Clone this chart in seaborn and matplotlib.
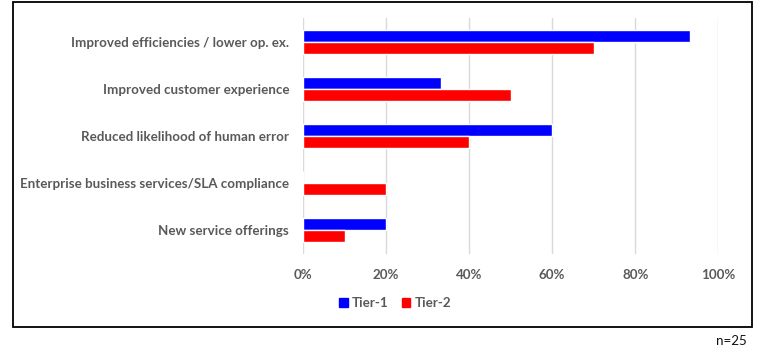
import matplotlib
matplotlib.use("Agg")
import matplotlib.pyplot as plt
import matplotlib.patches as mpatches
import matplotlib.ticker as mticker
import seaborn as sns
import pandas as pd

categories = [
    "Improved efficiencies / lower op. ex.",
    "Improved customer experience",
    "Reduced likelihood of human error",
    "Enterprise business services/SLA compliance",
    "New service offerings",
]
tier1 = [93.3, 33.3, 60.0, 0.0, 20.0]
tier2 = [70.0, 50.0, 40.0, 20.0, 10.0]
series = ["Tier-1", "Tier-2"]
colors = ["#0000ff", "#ff0000"]

df = pd.DataFrame({
    "category": categories * 2,
    "value": tier1 + tier2,
    "tier": [series[0]] * len(categories) + [series[1]] * len(categories),
})

sns.set_style("white")
plt.rcParams["font.family"] = ["Lato", "DejaVu Sans"]

fig = plt.figure(figsize=(7.62, 3.5), dpi=100)
ax = fig.add_axes([303 / 762, 1 - 253.5 / 350, (718.3 - 303) / 762, (253.5 - 18) / 350])

sns.barplot(data=df, y="category", x="value", hue="tier", order=categories,
            hue_order=series, palette=colors, orient="h", width=0.51, gap=0,
            saturation=1, legend=False, ax=ax)

ax.set_xlim(0, 100)
ax.set_xticks([0, 20, 40, 60, 80, 100])
ax.xaxis.set_major_formatter(mticker.FuncFormatter(lambda v, p: f"{v:.0f}%"))
ax.grid(axis="x", color="#d9d9d9", linewidth=1)
ax.set_axisbelow(True)
for s in ax.spines.values():
    s.set_visible(False)
ax.set_xlabel("")
ax.set_ylabel("")
ax.tick_params(axis="both", length=0, colors="#595959", labelsize=9.6)
ax.tick_params(axis="x", pad=11)
ax.tick_params(axis="y", pad=10)
for lab in ax.get_xticklabels() + ax.get_yticklabels():
    lab.set_fontweight("bold")

handles = [mpatches.Patch(color=c, label=s) for c, s in zip(colors, series)]
leg = fig.legend(handles=handles, loc="center", bbox_to_anchor=(395 / 762, 1 - 303 / 350),
                 ncol=2, frameon=False, handlelength=0.65, handleheight=0.65,
                 handletextpad=0.3, columnspacing=1.0, prop={"size": 9.6, "weight": "bold"})
for t in leg.get_texts():
    t.set_color("#595959")

fig.patches.append(mpatches.Rectangle((13 / 762, 1 - 327 / 350), (752 - 13) / 762, (327 - 2) / 350,
                                      transform=fig.transFigure, fill=False,
                                      edgecolor="black", linewidth=1.3))
fig.text(747 / 762, 1 - 341 / 350, "n=25", ha="right", va="center", fontsize=9.6, color="#111111")

fig.savefig("out.png", dpi=100)
